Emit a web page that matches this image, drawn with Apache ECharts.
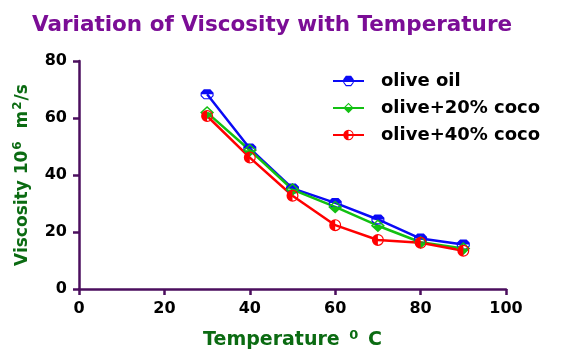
<!DOCTYPE html>
<html>
<head>
<meta charset="utf-8">
<script src="https://cdn.jsdelivr.net/npm/echarts@6/dist/echarts.min.js"></script>
<style>
  html, body { margin: 0; padding: 0; background: #fff; }
  #main { width: 561px; height: 349px; }
</style>
</head>
<body>
<div id="main"></div>
<script>
// temperature (deg C)
var temps = [30, 40, 50, 60, 70, 80, 90];
// viscosity x10^6 m2/s
var oliveOil = [68.3, 49.3, 35.3, 30.2, 24.4, 17.7, 15.6];
var olive20 = [61.9, 48.7, 34.9, 28.8, 22.2, 16.4, 14.2];
var olive40 = [60.7, 46.1, 32.7, 22.4, 17.2, 16.2, 13.4];
var seriesNames = ['olive oil', 'olive+20% coco', 'olive+40% coco'];
var xTicks = [0, 20, 40, 60, 80, 100];
var yTicks = [0, 20, 40, 60, 80];

var FONT = 'DejaVu Sans';
var axisColor = '#4b0e5e';
var nameColor = '#0b6b12';

// half filled markers (outline ring + filled half)
var octagon = 'path://M6 0L18 0L24 6L24 12L18 18L6 18L0 12L0 6Z' +
  'M7 2L2 7L2 11L7 16L17 16L22 11L22 7L17 2Z' +
  'M7 2L17 2L22 7L22 9L2 9L2 7Z';
var diamond = 'path://M10 0L20 10L10 20L0 10Z' +
  'M10 3L3 10L10 17L17 10Z' +
  'M3 10L17 10L10 17Z';
var halfCircle = 'path://M10 0A10 10 0 1 1 10 20A10 10 0 1 1 10 0Z' +
  'M10 2A8 8 0 1 0 10 18A8 8 0 1 0 10 2Z' +
  'M10 2A8 8 0 0 0 10 18Z';

function pairs(vals) {
  return temps.map(function (t, i) { return [t, vals[i]]; });
}

var myChart = echarts.init(document.getElementById('main'));

function makeSeries(name, vals, color, symbol, size) {
  return {
    name: name,
    type: 'line',
    data: pairs(vals),
    symbol: symbol,
    symbolSize: size,
    showAllSymbol: true,
    lineStyle: { color: color, width: 2.5 },
    itemStyle: { color: color, borderWidth: 0 },
    emphasis: { disabled: true },
    animation: false
  };
}

myChart.setOption({
  backgroundColor: '#fff',
  title: {
    text: 'Variation of Viscosity with Temperature',
    left: 27,
    top: 9,
    textStyle: { fontFamily: FONT, fontWeight: 'bold', fontSize: 21.5, color: '#7b0d96' }
  },
  legend: {
    orient: 'vertical',
    left: 327,
    top: 67,
    itemWidth: 31,
    itemHeight: 13,
    itemGap: 9,
    data: seriesNames,
    textStyle: { fontFamily: FONT, fontWeight: 'bold', fontSize: 18, color: '#000', padding: [0, 0, 0, 12] }
  },
  grid: { left: 79, right: 55, top: 61, bottom: 60, containLabel: false, outerBoundsMode: 'none' },
  xAxis: {
    type: 'value',
    min: 0,
    max: 100,
    interval: 20,
    name: '{t|Temperature }{s|0}{t| C}',
    nameLocation: 'middle',
    nameGap: 40,
    nameTextStyle: {
      rich: {
        t: { fontFamily: FONT, fontWeight: 'bold', fontSize: 19, color: nameColor },
        s: { fontFamily: FONT, fontWeight: 'bold', fontSize: 13, color: nameColor, verticalAlign: 'top', padding: [0, 3, 10, 3] }
      }
    },
    axisLine: { show: true, onZero: false, lineStyle: { color: axisColor, width: 2.5 } },
    axisTick: { show: true, length: 6, lineStyle: { color: axisColor, width: 2.5 } },
    axisLabel: {
      fontFamily: FONT, fontWeight: 'bold', fontSize: 16, color: '#000', margin: 12,
      formatter: function (v) { return xTicks.indexOf(v) >= 0 ? String(v) : ''; }
    },
    splitLine: { show: false }
  },
  yAxis: {
    type: 'value',
    min: 0,
    max: 80,
    interval: 20,
    name: '{t|Viscosity 10}{s|6}{t|  m}{s|2}{t|/s}',
    nameLocation: 'middle',
    nameRotate: 90,
    nameGap: 46,
    nameTextStyle: {
      rich: {
        t: { fontFamily: FONT, fontWeight: 'bold', fontSize: 17, color: nameColor },
        s: { fontFamily: FONT, fontWeight: 'bold', fontSize: 12, color: nameColor, verticalAlign: 'top', padding: [0, 1, 9, 1] }
      }
    },
    axisLine: { show: true, onZero: false, lineStyle: { color: axisColor, width: 2.5 } },
    axisTick: { show: true, length: 6, lineStyle: { color: axisColor, width: 2.5 } },
    axisLabel: {
      fontFamily: FONT, fontWeight: 'bold', fontSize: 16, color: '#000', margin: 12,
      formatter: function (v) { return yTicks.indexOf(v) >= 0 ? String(v) : ''; }
    },
    splitLine: { show: false }
  },
  series: [
    makeSeries(seriesNames[0], oliveOil, '#0a0af5', octagon, [13, 10]),
    makeSeries(seriesNames[1], olive20, '#12c012', diamond, [14, 13]),
    makeSeries(seriesNames[2], olive40, '#ff0000', halfCircle, [12, 12])
  ]
});
</script>
</body>
</html>
